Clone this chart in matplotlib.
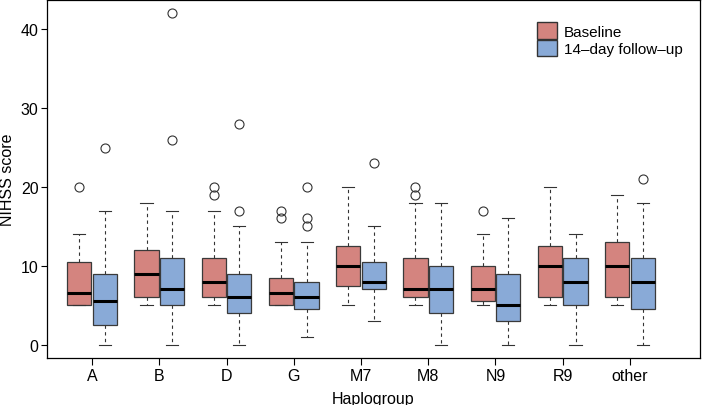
import numpy as np
import matplotlib
matplotlib.use("Agg")
import matplotlib.pyplot as plt
import matplotlib.patches as mpatches

plt.rcParams['font.family'] = ['Liberation Sans', 'DejaVu Sans']

groups = ["A", "B", "D", "G", "M7", "M8", "N9", "R9", "other"]

# baseline: (lower whisker, Q1, median, Q3, upper whisker), outliers
base_lo  = [5, 5, 5, 5, 5, 5, 5, 5, 5]
base_q1  = [5, 6, 6, 5, 7.5, 6, 5.5, 6, 6]
base_med = [6.5, 9, 8, 6.5, 10, 7, 7, 10, 10]
base_q3  = [10.5, 12, 11, 8.5, 12.5, 11, 10, 12.5, 13]
base_hi  = [14, 18, 17, 13, 20, 18, 14, 20, 19]
base_out = [[20], [], [20, 19], [17, 16], [], [20, 19], [17], [], []]

# 14-day follow-up
fu_lo  = [0, 0, 0, 1, 3, 0, 0, 0, 0]
fu_q1  = [2.5, 5, 4, 4.5, 7, 4, 3, 5, 4.5]
fu_med = [5.5, 7, 6, 6, 8, 7, 5, 8, 8]
fu_q3  = [9, 11, 9, 8, 10.5, 10, 9, 11, 11]
fu_hi  = [17, 17, 15, 13, 15, 18, 16, 14, 18]
fu_out = [[25], [42, 26], [28, 17], [20, 16, 15], [23], [], [], [], [21]]

red = "#D4847F"
blue = "#89AAD7"


def make_stats(lo, q1, med, q3, hi, out):
    return [dict(whislo=a, q1=b, med=c, q3=d, whishi=e, fliers=f)
            for a, b, c, d, e, f in zip(lo, q1, med, q3, hi, out)]


fig = plt.figure(figsize=(7.02, 4.06), dpi=100)
ax = fig.add_axes([0.067, 0.116, 0.93, 0.881])

x = np.arange(1, len(groups) + 1)
off = 0.19
w = 0.36

for stats, pos, col in [
    (make_stats(base_lo, base_q1, base_med, base_q3, base_hi, base_out), x - off, red),
    (make_stats(fu_lo, fu_q1, fu_med, fu_q3, fu_hi, fu_out), x + off, blue),
]:
    ax.bxp(stats, positions=pos, widths=w, patch_artist=True,
           showfliers=True,
           boxprops=dict(facecolor=col, edgecolor="#3a3a3a", linewidth=0.9),
           medianprops=dict(color="black", linewidth=2.2),
           whiskerprops=dict(color="#333333", linewidth=0.8, linestyle=(0, (3, 3))),
           capprops=dict(color="#333333", linewidth=0.8),
           capwidths=w * 0.5,
           flierprops=dict(marker="o", markerfacecolor="none",
                           markeredgecolor="#333333", markersize=6.5,
                           markeredgewidth=0.8))

ax.set_xlim(0.33, 10.04)
ax.set_ylim(-1.68, 43.68)
ax.set_xticks(x)
ax.set_xticklabels(groups, fontsize=11.5)
ax.set_yticks([0, 10, 20, 30, 40])
ax.tick_params(axis="y", labelsize=11.5, length=4, width=0.8, pad=2)
ax.tick_params(axis="x", length=5, width=0.8, pad=2.5)
for s in ax.spines.values():
    s.set_linewidth(0.9)

ax.set_xlabel("Haplogroup", fontsize=11.5)
ax.set_ylabel("NIHSS score", fontsize=11.5)
ax.xaxis.set_label_coords(0.5, -0.092)
ax.yaxis.set_label_coords(-0.049, 0.5)

h1 = mpatches.Patch(facecolor=red, edgecolor="#333333", label="Baseline")
h2 = mpatches.Patch(facecolor=blue, edgecolor="#333333", label="14\u2013day follow\u2013up")
ax.legend(handles=[h1, h2], loc="upper right", bbox_to_anchor=(0.99, 0.968),
          frameon=False, fontsize=11, handlelength=1.3, handleheight=1.3,
          handletextpad=0.45, labelspacing=0.05, borderaxespad=0.3)

fig.savefig("out.png", dpi=100)
